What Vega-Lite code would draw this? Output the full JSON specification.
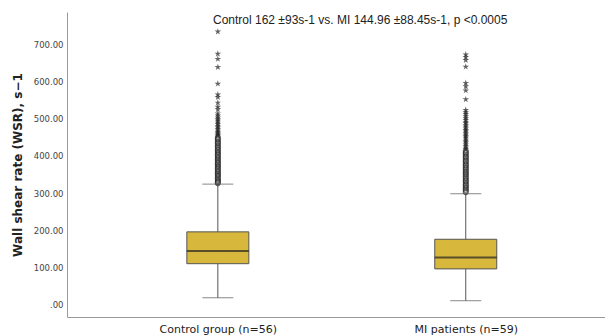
{
  "$schema": "https://vega.github.io/schema/vega-lite/v6.json",
  "width": 538,
  "height": 305,
  "autosize": {"type": "none"},
  "padding": {"left": 67, "top": 12, "right": 0, "bottom": 18},
  "background": "white",
  "title": {
    "text": "Control 162 ±93s-1 vs. MI 144.96 ±88.45s-1, p <0.0005",
    "anchor": "start",
    "frame": "group",
    "dx": 146,
    "dy": 19,
    "font": "Liberation Sans",
    "fontSize": 12,
    "fontWeight": "normal",
    "color": "#222"
  },
  "config": {
    "view": {"stroke": null},
    "axis": {"grid": false, "ticks": false, "domainColor": "#9a9a9a", "domainWidth": 1}
  },
  "datasets": {
    "stats": [
      {"group": "Control group (n=56)", "lo": 17, "q1": 109, "median": 143, "q3": 195, "hi": 324},
      {"group": "MI patients (n=59)", "lo": 9, "q1": 95, "median": 126, "q3": 175, "hi": 298}
    ],
    "outliers": [
      {"group": "Control group (n=56)", "value": 736, "kind": "extreme"},
      {"group": "Control group (n=56)", "value": 676, "kind": "extreme"},
      {"group": "Control group (n=56)", "value": 662, "kind": "extreme"},
      {"group": "Control group (n=56)", "value": 640, "kind": "extreme"},
      {"group": "Control group (n=56)", "value": 595, "kind": "extreme"},
      {"group": "Control group (n=56)", "value": 566, "kind": "extreme"},
      {"group": "Control group (n=56)", "value": 559, "kind": "extreme"},
      {"group": "Control group (n=56)", "value": 544, "kind": "extreme"},
      {"group": "Control group (n=56)", "value": 533, "kind": "extreme"},
      {"group": "Control group (n=56)", "value": 526, "kind": "extreme"},
      {"group": "Control group (n=56)", "value": 515, "kind": "extreme"},
      {"group": "Control group (n=56)", "value": 509, "kind": "extreme"},
      {"group": "Control group (n=56)", "value": 504, "kind": "extreme"},
      {"group": "Control group (n=56)", "value": 499, "kind": "extreme"},
      {"group": "Control group (n=56)", "value": 495, "kind": "extreme"},
      {"group": "Control group (n=56)", "value": 490, "kind": "extreme"},
      {"group": "Control group (n=56)", "value": 486, "kind": "extreme"},
      {"group": "Control group (n=56)", "value": 481, "kind": "extreme"},
      {"group": "Control group (n=56)", "value": 477, "kind": "extreme"},
      {"group": "Control group (n=56)", "value": 473, "kind": "extreme"},
      {"group": "Control group (n=56)", "value": 468, "kind": "extreme"},
      {"group": "Control group (n=56)", "value": 465, "kind": "extreme"},
      {"group": "Control group (n=56)", "value": 461, "kind": "extreme"},
      {"group": "Control group (n=56)", "value": 458, "kind": "extreme"},
      {"group": "Control group (n=56)", "value": 455, "kind": "extreme"},
      {"group": "Control group (n=56)", "value": 451, "kind": "outlier"},
      {"group": "Control group (n=56)", "value": 447, "kind": "outlier"},
      {"group": "Control group (n=56)", "value": 444, "kind": "outlier"},
      {"group": "Control group (n=56)", "value": 440, "kind": "outlier"},
      {"group": "Control group (n=56)", "value": 436, "kind": "outlier"},
      {"group": "Control group (n=56)", "value": 433, "kind": "outlier"},
      {"group": "Control group (n=56)", "value": 429, "kind": "outlier"},
      {"group": "Control group (n=56)", "value": 425, "kind": "outlier"},
      {"group": "Control group (n=56)", "value": 422, "kind": "outlier"},
      {"group": "Control group (n=56)", "value": 418, "kind": "outlier"},
      {"group": "Control group (n=56)", "value": 415, "kind": "outlier"},
      {"group": "Control group (n=56)", "value": 411, "kind": "outlier"},
      {"group": "Control group (n=56)", "value": 408, "kind": "outlier"},
      {"group": "Control group (n=56)", "value": 404, "kind": "outlier"},
      {"group": "Control group (n=56)", "value": 401, "kind": "outlier"},
      {"group": "Control group (n=56)", "value": 397, "kind": "outlier"},
      {"group": "Control group (n=56)", "value": 394, "kind": "outlier"},
      {"group": "Control group (n=56)", "value": 390, "kind": "outlier"},
      {"group": "Control group (n=56)", "value": 387, "kind": "outlier"},
      {"group": "Control group (n=56)", "value": 383, "kind": "outlier"},
      {"group": "Control group (n=56)", "value": 380, "kind": "outlier"},
      {"group": "Control group (n=56)", "value": 377, "kind": "outlier"},
      {"group": "Control group (n=56)", "value": 373, "kind": "outlier"},
      {"group": "Control group (n=56)", "value": 370, "kind": "outlier"},
      {"group": "Control group (n=56)", "value": 366, "kind": "outlier"},
      {"group": "Control group (n=56)", "value": 363, "kind": "outlier"},
      {"group": "Control group (n=56)", "value": 359, "kind": "outlier"},
      {"group": "Control group (n=56)", "value": 356, "kind": "outlier"},
      {"group": "Control group (n=56)", "value": 352, "kind": "outlier"},
      {"group": "Control group (n=56)", "value": 349, "kind": "outlier"},
      {"group": "Control group (n=56)", "value": 346, "kind": "outlier"},
      {"group": "Control group (n=56)", "value": 342, "kind": "outlier"},
      {"group": "Control group (n=56)", "value": 339, "kind": "outlier"},
      {"group": "Control group (n=56)", "value": 335, "kind": "outlier"},
      {"group": "Control group (n=56)", "value": 332, "kind": "outlier"},
      {"group": "Control group (n=56)", "value": 329, "kind": "outlier"},
      {"group": "Control group (n=56)", "value": 326, "kind": "outlier"},
      {"group": "MI patients (n=59)", "value": 674, "kind": "extreme"},
      {"group": "MI patients (n=59)", "value": 667, "kind": "extreme"},
      {"group": "MI patients (n=59)", "value": 659, "kind": "extreme"},
      {"group": "MI patients (n=59)", "value": 641, "kind": "extreme"},
      {"group": "MI patients (n=59)", "value": 597, "kind": "extreme"},
      {"group": "MI patients (n=59)", "value": 588, "kind": "extreme"},
      {"group": "MI patients (n=59)", "value": 577, "kind": "extreme"},
      {"group": "MI patients (n=59)", "value": 553, "kind": "extreme"},
      {"group": "MI patients (n=59)", "value": 524, "kind": "extreme"},
      {"group": "MI patients (n=59)", "value": 518, "kind": "extreme"},
      {"group": "MI patients (n=59)", "value": 513, "kind": "extreme"},
      {"group": "MI patients (n=59)", "value": 507, "kind": "extreme"},
      {"group": "MI patients (n=59)", "value": 502, "kind": "extreme"},
      {"group": "MI patients (n=59)", "value": 497, "kind": "extreme"},
      {"group": "MI patients (n=59)", "value": 492, "kind": "extreme"},
      {"group": "MI patients (n=59)", "value": 488, "kind": "extreme"},
      {"group": "MI patients (n=59)", "value": 483, "kind": "extreme"},
      {"group": "MI patients (n=59)", "value": 479, "kind": "extreme"},
      {"group": "MI patients (n=59)", "value": 474, "kind": "extreme"},
      {"group": "MI patients (n=59)", "value": 470, "kind": "extreme"},
      {"group": "MI patients (n=59)", "value": 466, "kind": "extreme"},
      {"group": "MI patients (n=59)", "value": 461, "kind": "extreme"},
      {"group": "MI patients (n=59)", "value": 457, "kind": "extreme"},
      {"group": "MI patients (n=59)", "value": 453, "kind": "extreme"},
      {"group": "MI patients (n=59)", "value": 449, "kind": "extreme"},
      {"group": "MI patients (n=59)", "value": 444, "kind": "extreme"},
      {"group": "MI patients (n=59)", "value": 440, "kind": "extreme"},
      {"group": "MI patients (n=59)", "value": 436, "kind": "extreme"},
      {"group": "MI patients (n=59)", "value": 431, "kind": "extreme"},
      {"group": "MI patients (n=59)", "value": 427, "kind": "extreme"},
      {"group": "MI patients (n=59)", "value": 422, "kind": "extreme"},
      {"group": "MI patients (n=59)", "value": 418, "kind": "extreme"},
      {"group": "MI patients (n=59)", "value": 414, "kind": "outlier"},
      {"group": "MI patients (n=59)", "value": 410, "kind": "outlier"},
      {"group": "MI patients (n=59)", "value": 407, "kind": "outlier"},
      {"group": "MI patients (n=59)", "value": 403, "kind": "outlier"},
      {"group": "MI patients (n=59)", "value": 399, "kind": "outlier"},
      {"group": "MI patients (n=59)", "value": 396, "kind": "outlier"},
      {"group": "MI patients (n=59)", "value": 392, "kind": "outlier"},
      {"group": "MI patients (n=59)", "value": 388, "kind": "outlier"},
      {"group": "MI patients (n=59)", "value": 385, "kind": "outlier"},
      {"group": "MI patients (n=59)", "value": 381, "kind": "outlier"},
      {"group": "MI patients (n=59)", "value": 377, "kind": "outlier"},
      {"group": "MI patients (n=59)", "value": 374, "kind": "outlier"},
      {"group": "MI patients (n=59)", "value": 370, "kind": "outlier"},
      {"group": "MI patients (n=59)", "value": 367, "kind": "outlier"},
      {"group": "MI patients (n=59)", "value": 363, "kind": "outlier"},
      {"group": "MI patients (n=59)", "value": 359, "kind": "outlier"},
      {"group": "MI patients (n=59)", "value": 356, "kind": "outlier"},
      {"group": "MI patients (n=59)", "value": 352, "kind": "outlier"},
      {"group": "MI patients (n=59)", "value": 349, "kind": "outlier"},
      {"group": "MI patients (n=59)", "value": 345, "kind": "outlier"},
      {"group": "MI patients (n=59)", "value": 341, "kind": "outlier"},
      {"group": "MI patients (n=59)", "value": 338, "kind": "outlier"},
      {"group": "MI patients (n=59)", "value": 334, "kind": "outlier"},
      {"group": "MI patients (n=59)", "value": 331, "kind": "outlier"},
      {"group": "MI patients (n=59)", "value": 327, "kind": "outlier"},
      {"group": "MI patients (n=59)", "value": 323, "kind": "outlier"},
      {"group": "MI patients (n=59)", "value": 320, "kind": "outlier"},
      {"group": "MI patients (n=59)", "value": 316, "kind": "outlier"},
      {"group": "MI patients (n=59)", "value": 313, "kind": "outlier"},
      {"group": "MI patients (n=59)", "value": 309, "kind": "outlier"},
      {"group": "MI patients (n=59)", "value": 306, "kind": "outlier"},
      {"group": "MI patients (n=59)", "value": 302, "kind": "outlier"}
    ]
  },
  "encoding": {
    "x": {
      "field": "group",
      "type": "nominal",
      "sort": null,
      "scale": {"type": "point", "padding": 0.585, "align": 0.52},
      "axis": {
        "title": null,
        "labelAngle": 0,
        "labelFont": "DejaVu Sans",
        "labelFontSize": 11,
        "labelColor": "#222",
        "labelPadding": 6
      }
    }
  },
  "layer": [
    {
      "data": {"name": "stats"},
      "mark": {"type": "rule", "color": "#555", "strokeWidth": 1},
      "encoding": {
        "y": {
          "field": "lo",
          "type": "quantitative",
          "scale": {"domain": [-35, 789], "nice": false, "zero": false},
          "axis": {
            "title": "Wall shear rate (WSR), s−1",
            "titleFont": "DejaVu Sans",
            "titleFontSize": 12,
            "titleFontWeight": "bold",
            "titleColor": "#222",
            "titlePadding": 9,
            "values": [0, 100, 200, 300, 400, 500, 600, 700],
            "labelExpr": "datum.value == 0 ? '.00' : format(datum.value, '.2f')",
            "labelFont": "DejaVu Sans",
            "labelFontSize": 8.5,
            "labelColor": "#444",
            "labelPadding": 4
          }
        },
        "y2": {"field": "hi"}
      }
    },
    {
      "data": {"name": "stats"},
      "mark": {"type": "tick", "color": "#555", "size": 31, "thickness": 1},
      "encoding": {"y": {"field": "lo", "type": "quantitative"}}
    },
    {
      "data": {"name": "stats"},
      "mark": {"type": "tick", "color": "#555", "size": 31, "thickness": 1},
      "encoding": {"y": {"field": "hi", "type": "quantitative"}}
    },
    {
      "data": {"name": "outliers"},
      "transform": [{"filter": "datum.kind == 'outlier'"}],
      "mark": {"type": "point", "shape": "circle", "filled": false, "color": "#222", "size": 26, "strokeWidth": 1},
      "encoding": {"y": {"field": "value", "type": "quantitative"}}
    },
    {
      "data": {"name": "outliers"},
      "transform": [{"filter": "datum.kind == 'extreme'"}],
      "mark": {
        "type": "point",
        "shape": "M0,-1L0.22,-0.3L0.95,-0.3L0.36,0.12L0.59,0.81L0,0.38L-0.59,0.81L-0.36,0.12L-0.95,-0.3L-0.22,-0.3Z",
        "filled": true,
        "color": "#222",
        "size": 48
      },
      "encoding": {"y": {"field": "value", "type": "quantitative"}}
    },
    {
      "data": {"name": "stats"},
      "mark": {"type": "bar", "width": 62, "fill": "#d8b83c", "stroke": "#555", "strokeWidth": 1},
      "encoding": {
        "y": {"field": "q1", "type": "quantitative"},
        "y2": {"field": "q3"}
      }
    },
    {
      "data": {"name": "stats"},
      "mark": {"type": "tick", "color": "#222", "size": 62, "thickness": 2},
      "encoding": {"y": {"field": "median", "type": "quantitative"}}
    }
  ]
}
